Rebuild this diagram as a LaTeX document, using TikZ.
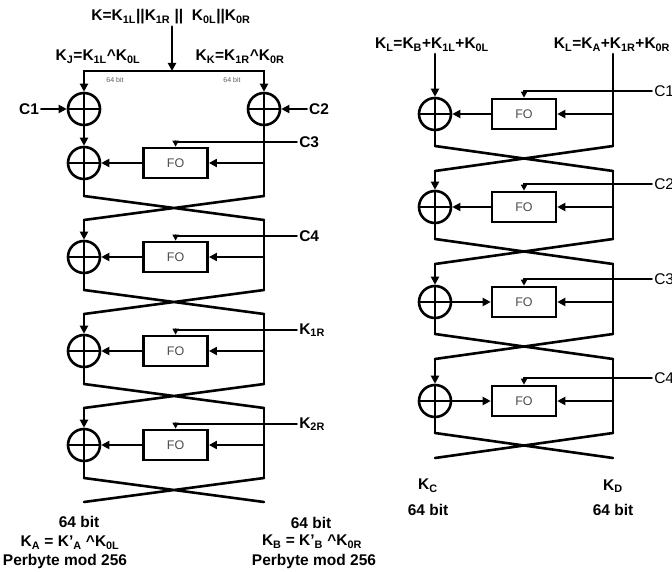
\documentclass[tikz,border=0pt]{standalone}
\usepackage{fontspec}
\setmainfont{Liberation Sans}
\usetikzlibrary{positioning,arrows.meta}

\begin{document}
\begin{tikzpicture}[x=1pt, y=-1pt, line width=2.6pt, line cap=round]
    % Style definition for the XOR circles, FO boxes and labels
    \tikzset{xorbox/.style={circle, draw, minimum size=32pt, inner sep=0pt,
             path picture={\draw (path picture bounding box.north) -- (path picture bounding box.south)
                                 (path picture bounding box.west) -- (path picture bounding box.east);}},
             fobox/.style={rectangle, draw, minimum width=64pt, minimum height=30pt,
             font=\fontsize{12.5}{14}\selectfont, text=black!70},
             lbl/.style={font=\fontsize{15.5}{18}\selectfont\bfseries, inner sep=1pt},
             key/.style={lbl, anchor=west},
             keyr/.style={key, font=\fontsize{15.5}{18}\selectfont},
             tiny/.style={font=\fontsize{7}{8}\selectfont, text=black!65},
             keyline/.style={line width=1.6pt, -{Triangle[length=6pt,width=6pt]}}}
    \tikzstyle{arrow} = [-{Triangle[length=8pt,width=8pt]}]

    \useasboundingbox (0,0) rectangle (672,572);

    % Left: key split
    \node (kt) [lbl] at (171,17) {K=K\textsubscript{1L}||K\textsubscript{1R} ||~ K\textsubscript{0L}||K\textsubscript{0R}};
    \node (kj) [lbl] at (98,57) {K\textsubscript{J}=K\textsubscript{1L}\textasciicircum K\textsubscript{0L}};
    \node (kk) [lbl] at (240,57) {K\textsubscript{K}=K\textsubscript{1R}\textasciicircum K\textsubscript{0R}};
    \node (bitl) [tiny] at (115,80) {64 bit};
    \node (bitr) [tiny] at (232,80) {64 bit};
    \coordinate (split) at (172,71);
    \draw [arrow] (kt.south -| split) -- (split);

    % Constants C1 and C2
    \node (xc1) [xorbox] at (84,109) {};
    \node (xc2) [xorbox] at (264,109) {};
    \node (c1) [lbl] at (29,109) {C1};
    \node (c2) [lbl] at (319,109) {C2};
    \draw [arrow] (split) -| (xc1);
    \draw [arrow] (split) -| (xc2);
    \draw [arrow] (c1) -- (xc1);
    \draw [arrow] (c2) -- (xc2);

    % Left rounds
    \foreach \i/\y/\k in {1/163/C3, 2/257/C4, 3/351/{K\textsubscript{1R}}, 4/445/{K\textsubscript{2R}}} {
        \node (xl\i) [xorbox] at (84,\y) {};
        \node (fol\i) [fobox, right=41pt of xl\i] {FO};
        \node (kl\i) [key] at (297,\y-21) {\k};
        \coordinate (jl\i) at (264,\y);
        \coordinate (al\i) at (84,\y+33);
        \coordinate (bl\i) at (264,\y+33);
        \coordinate (cl\i) at (84,\y+57);
        \coordinate (dl\i) at (264,\y+57);
        \draw [arrow] (fol\i) -- (xl\i);
        \draw [arrow] (jl\i) -- (fol\i);
        \draw [keyline] (kl\i) -| (fol\i);
        \draw (xl\i) -- (al\i);
        \draw (al\i) -- (dl\i) (bl\i) -- (cl\i);
    }
    \draw [arrow] (xc1) -- (xl1);
    \draw (xc2) -- (bl1);
    \foreach \i/\j in {1/2, 2/3, 3/4} {
        \draw [arrow] (cl\i) -- (xl\j);
        \draw (dl\i) -- (bl\j);
    }

    % Left outputs
    \node (oa1) [lbl] at (79,522) {64 bit};
    \node (oa2) [lbl] at (70,543) {K\textsubscript{A} = K’\textsubscript{A} \textasciicircum K\textsubscript{0L}};
    \node (oa3) [lbl] at (65,561) {Perbyte mod 256};
    \node (ob1) [lbl] at (311,523) {64 bit};
    \node (ob2) [lbl] at (312,542) {K\textsubscript{B} = K’\textsubscript{B} \textasciicircum K\textsubscript{0R}};
    \node (ob3) [lbl] at (314,561) {Perbyte mod 256};

    % Right: inputs
    \node (ka) [lbl] at (432,45) {K\textsubscript{L}=K\textsubscript{B}+K\textsubscript{1L}+K\textsubscript{0L}};
    \node (kb) [lbl] at (612,45) {K\textsubscript{L}=K\textsubscript{A}+K\textsubscript{1R}+K\textsubscript{0R}};

    % Right rounds
    \foreach \i/\y in {1/114, 2/207, 3/302, 4/401} {
        \node (xr\i) [xorbox] at (435,\y) {};
        \node (for\i) [fobox] at (524,\y) {FO};
        \node (kr\i) [keyr] at (652,\y-23) {C\i};
        \coordinate (jr\i) at (613,\y);
        \coordinate (ar\i) at (435,\y+32);
        \coordinate (br\i) at (613,\y+32);
        \coordinate (cr\i) at (435,\y+57);
        \coordinate (dr\i) at (613,\y+57);
        \draw [arrow] (jr\i) -- (for\i);
        \draw [keyline] (kr\i) -| (for\i);
        \draw (xr\i) -- (ar\i);
        \draw (ar\i) -- (dr\i) (br\i) -- (cr\i);
    }
    \draw [arrow] (for1) -- (xr1);
    \draw [arrow] (for2) -- (xr2);
    \draw [arrow] (xr3) -- (for3);
    \draw [arrow] (xr4) -- (for4);
    \draw [arrow] (ka.south -| xr1) -- (xr1);
    \draw (kb.south -| jr1) -- (br1);
    \foreach \i/\j in {1/2, 2/3, 3/4} {
        \draw [arrow] (cr\i) -- (xr\j);
        \draw (dr\i) -- (br\j);
    }

    % Right outputs
    \node (kc) [lbl] at (428,486) {K\textsubscript{C}};
    \node (kc64) [lbl] at (428,510) {64 bit};
    \node (kd) [lbl] at (613,486) {K\textsubscript{D}};
    \node (kd64) [lbl] at (613,510) {64 bit};
\end{tikzpicture}
\end{document}
